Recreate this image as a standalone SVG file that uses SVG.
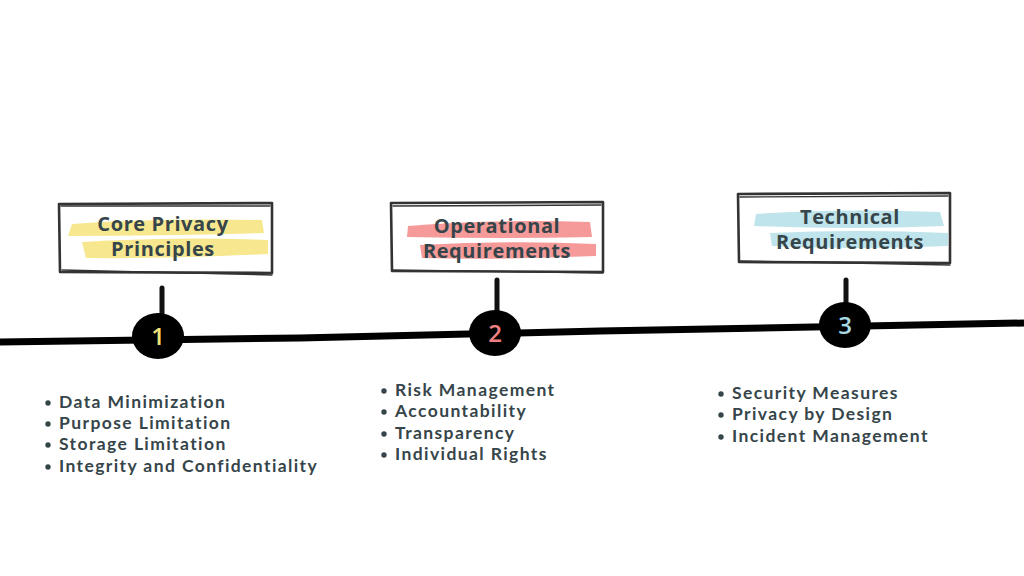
<svg xmlns="http://www.w3.org/2000/svg" width="1024" height="576" viewBox="0 0 1024 576">
<style>
.box{fill:none;stroke:#333;stroke-width:2.6;stroke-linejoin:round;stroke-linecap:round}
.box2{fill:none;stroke:#333;stroke-width:1.4;stroke-linecap:round}
.title{font-family:"Open Sans","Liberation Sans",sans-serif;font-weight:700;font-size:20px;letter-spacing:0.6px;fill:#36454a;text-anchor:middle}
.item{font-family:Lato,"Liberation Sans",sans-serif;font-weight:700;font-size:17.5px;letter-spacing:1.4px;fill:#36454a}
.dot{fill:#36454a}
.stem{stroke:#111;stroke-width:5;stroke-linecap:round;fill:none}
.num{font-family:"Open Sans","Liberation Sans",sans-serif;font-weight:600;font-size:24px;text-anchor:middle}
</style>
<g id="connectors">
<path d="M0,342 L300,338 L600,331 L1024,323" stroke="#000" stroke-width="7" fill="none"/>
<path class="stem" d="M162,288 L162,322"/>
<path class="stem" d="M497,280 L497,316"/>
<path class="stem" d="M846,280 L846,310"/>
</g>
<g id="node1">
<path d="M72,224 Q150,218 262,220 L264,233 Q170,236 68,236 Z" fill="#f7e88f"/>
<path d="M82,242 Q180,236 268,240 L268,254 Q170,259 86,258 Z" fill="#f7e88f"/>
<path class="box" d="M59,204 L272,203 L272,273 L60,272 Z"/>
<path class="box2" d="M61,206 L270,206 M62,270 L272,275"/>
<text class="title" x="163" y="231">Core Privacy</text>
<text class="title" x="163" y="256">Principles</text>
<ellipse cx="158" cy="336" rx="26" ry="23" fill="#000"/>
<text class="num" x="158" y="345" fill="#f2e27a">1</text>
</g>
<g id="node2">
<path d="M408,226 Q490,219 590,222 L592,237 Q500,239 407,237 Z" fill="#f59a98"/>
<path d="M420,245 Q510,240 596,244 L596,256 Q500,260 422,258 Z" fill="#f59a98"/>
<path class="box" d="M391,203 L603,202 L603,272 L392,271 Z"/>
<path class="box2" d="M393,206 L601,205 M393,270 L603,273"/>
<text class="title" x="497" y="233">Operational</text>
<text class="title" x="497" y="258">Requirements</text>
<ellipse cx="495" cy="333" rx="26" ry="23" fill="#000"/>
<text class="num" x="495" y="342" fill="#f08080">2</text>
</g>
<g id="node3">
<path d="M756,214 Q840,208 940,212 L944,226 Q850,230 754,226 Z" fill="#bfe4ec"/>
<path d="M770,233 Q860,229 948,233 L948,246 Q860,250 772,246 Z" fill="#bfe4ec"/>
<path class="box" d="M738,194 L950,193 L950,263 L739,262 Z"/>
<path class="box2" d="M740,197 L948,196 M740,261 L950,265"/>
<text class="title" x="850" y="224">Technical</text>
<text class="title" x="850" y="249">Requirements</text>
<ellipse cx="845" cy="325" rx="26" ry="23" fill="#000"/>
<text class="num" x="845" y="334" fill="#a8dbe6">3</text>
</g>
<g id="list1">
<circle class="dot" cx="48" cy="403" r="2.7"/><text class="item" x="59" y="408">Data Minimization</text>
<circle class="dot" cx="48" cy="424" r="2.7"/><text class="item" x="59" y="429">Purpose Limitation</text>
<circle class="dot" cx="48" cy="445" r="2.7"/><text class="item" x="59" y="450">Storage Limitation</text>
<circle class="dot" cx="48" cy="467" r="2.7"/><text class="item" x="59" y="472">Integrity and Confidentiality</text>
</g>
<g id="list2">
<circle class="dot" cx="384" cy="391" r="2.7"/><text class="item" x="395" y="396">Risk Management</text>
<circle class="dot" cx="384" cy="412" r="2.7"/><text class="item" x="395" y="417">Accountability</text>
<circle class="dot" cx="384" cy="434" r="2.7"/><text class="item" x="395" y="439">Transparency</text>
<circle class="dot" cx="384" cy="455" r="2.7"/><text class="item" x="395" y="460">Individual Rights</text>
</g>
<g id="list3">
<circle class="dot" cx="721" cy="394" r="2.7"/><text class="item" x="732" y="399">Security Measures</text>
<circle class="dot" cx="721" cy="415" r="2.7"/><text class="item" x="732" y="420">Privacy by Design</text>
<circle class="dot" cx="721" cy="437" r="2.7"/><text class="item" x="732" y="442">Incident Management</text>
</g>
</svg>
